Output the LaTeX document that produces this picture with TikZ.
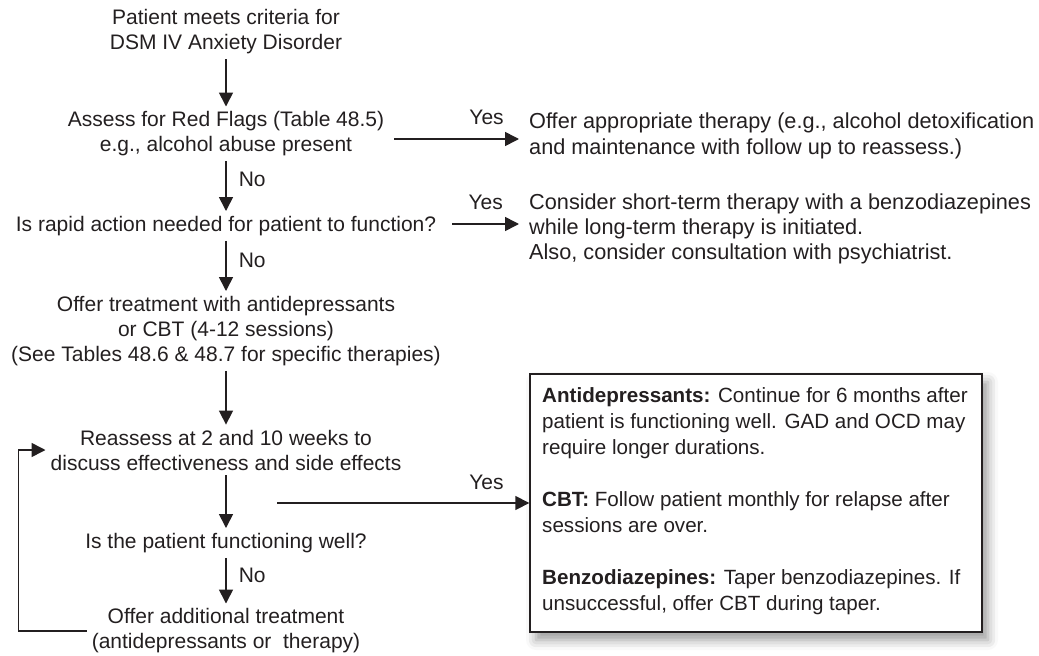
\documentclass[tikz,border=0pt]{standalone}
\usepackage{fontspec}
\setmainfont{Liberation Sans}
\usetikzlibrary{arrows.meta,calc,shadows.blur}
\definecolor{ink}{HTML}{231F20}
\begin{document}
\begin{tikzpicture}[x=1pt,y=-1pt,
  every node/.style={font=\fontsize{21}{25}\selectfont, text=ink},
  txt/.style={align=center, inner sep=5pt},
  side/.style={align=left, anchor=west, inner xsep=10pt, inner ysep=0pt, font=\fontsize{21.7}{25.3}\selectfont},
  arr/.style={draw=ink, line width=1.6pt, -{Triangle[length=14pt,width=14pt]}},
  lbl/.style={inner sep=0pt}]
\useasboundingbox (0,0) rectangle (1039,656);

\node[txt] (n1) at (226,32) {Patient meets criteria for\\DSM IV Anxiety Disorder};
\node[txt] (n2) at (226,134) {Assess for Red Flags (Table 48.5)\\e.g., alcohol abuse present};
\node[txt] (n3) at (226,226) {Is rapid action needed for patient to function?};
\node[txt] (n4) at (226,331) {Offer treatment with antidepressants\\or CBT (4-12 sessions)\\(See Tables 48.6 \& 48.7 for specific therapies)};
\node[txt] (n5) at (226,450) {Reassess at 2 and 10 weeks to\\discuss effectiveness and side effects};
\node[txt] (n6) at (226,543) {Is the patient functioning well?};
\node[txt] (n7) at (226,631) {Offer additional treatment\\(antidepressants or\ \ therapy)};

\node[side] (r1) at (519,136) {Offer appropriate therapy (e.g., alcohol detoxification\\and maintenance with follow up to reassess.)};
\node[side] (r2) at (519,229) {Consider short-term therapy with a benzodiazepines\\while long-term therapy is initiated.\\Also, consider consultation with psychiatrist.};

\node[draw=ink, line width=1.4pt, fill=white, minimum width=452pt, minimum height=258pt,
  blur shadow={shadow xshift=6pt, shadow yshift=-8pt, shadow blur radius=10pt, shadow opacity=40}] (box) at (756,503) {};
\node[anchor=north west, inner sep=0pt, align=left, font=\fontsize{20.6}{26}\selectfont] (boxtxt) at (542,387)
 {\textbf{Antidepressants:} Continue for 6 months after\\patient is functioning well. GAD and OCD may\\require longer durations.\\[26pt]
  \textbf{CBT:} Follow patient monthly for relapse after\\sessions are over.\\[26pt]
  \textbf{Benzodiazepines:} Taper benzodiazepines. If\\unsuccessful, offer CBT during taper.};

\draw[arr] (n1) -- (n2);
\draw[arr] (n2) -- node[right=12pt, pos=.37, lbl]{No} (n3);
\draw[arr] (n3) -- node[right=12pt, pos=.39, lbl]{No} (n4);
\draw[arr] (n4) -- (n5);
\draw[arr] (n5) -- (n6);
\draw[arr] (n6) -- node[right=12pt, pos=.39, lbl]{No} (n7);

\draw[arr] ($(n2.east)+(5,5)$) -- node[above=13pt, pos=.74, lbl]{Yes} ($(r1.west)+(0,3)$);
\draw[arr] ($(n3.east)+(11,-2)$) -- node[above=13pt, pos=.5, lbl]{Yes} ($(r2.west)+(0,-5)$);
\coordinate (ys) at (277,503);
\draw[arr] (ys) -- node[above=13pt, pos=.83, lbl]{Yes} (box.west);

\draw[arr] (n7.west) -- ++(-68,0) |- (n5.west);
\end{tikzpicture}
\end{document}
